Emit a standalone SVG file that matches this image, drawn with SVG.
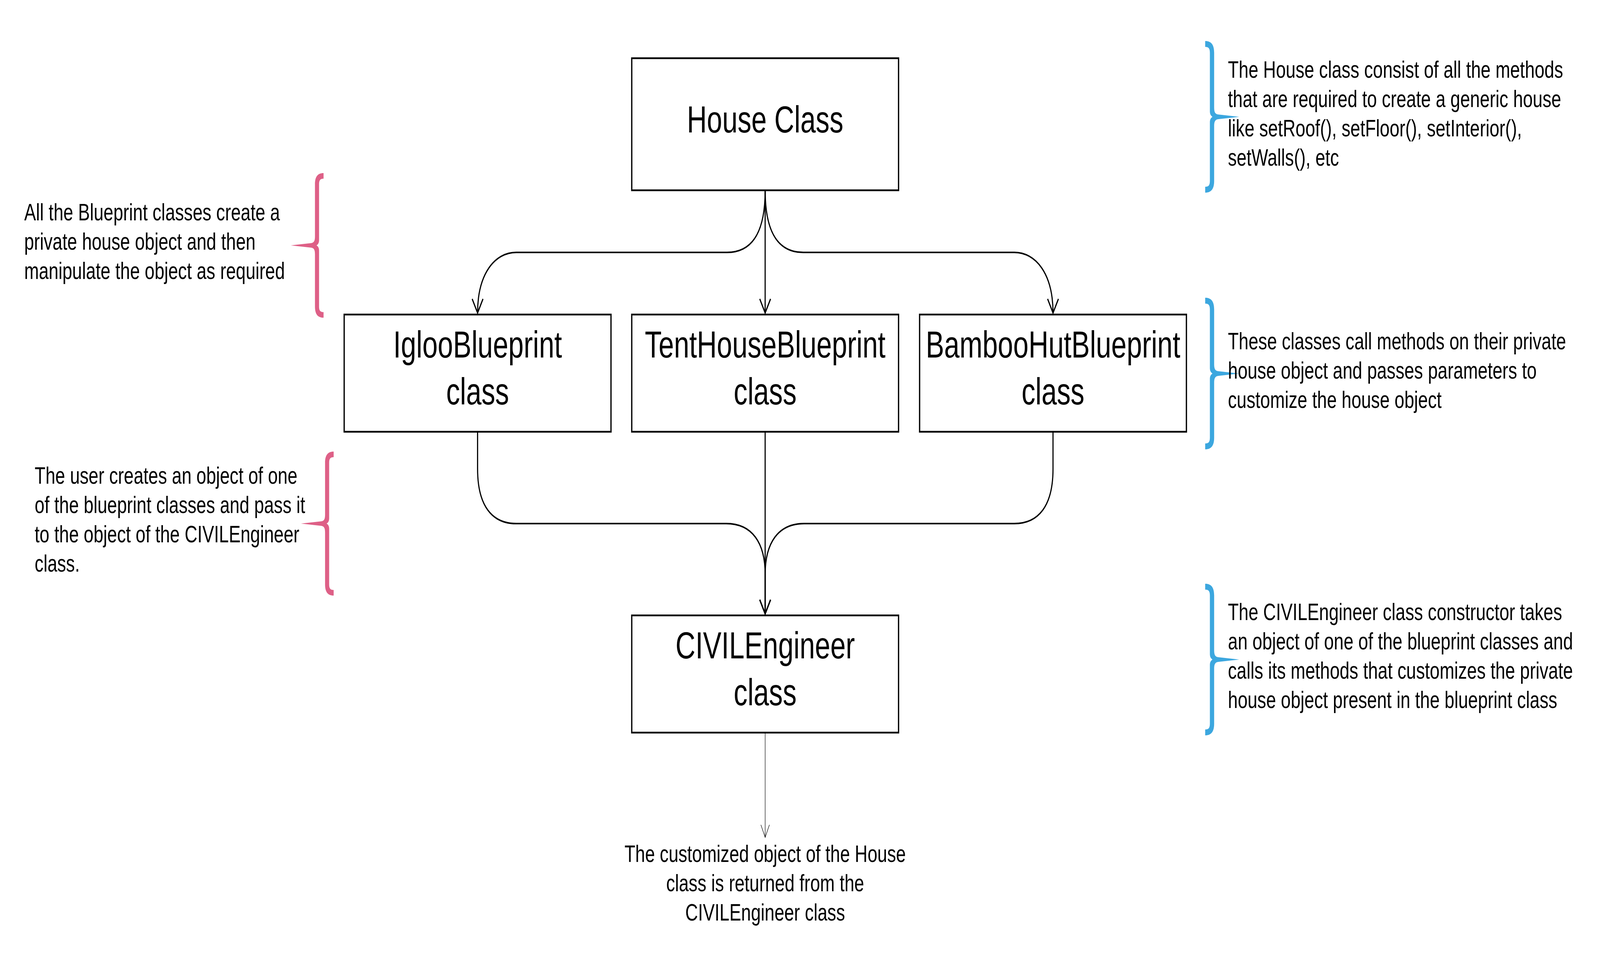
<svg xmlns="http://www.w3.org/2000/svg" xmlns:xlink="http://www.w3.org/1999/xlink" width="5625" height="2480" viewBox="0 0 5625 2480" preserveAspectRatio="none" style="width:100%;height:100%">
<style>
.box{fill:#fff;stroke:#000;stroke-width:4.5}
.lbl{font-family:"Liberation Sans",Arial,sans-serif;font-size:97px;fill:#000;text-anchor:middle}
.note{font-family:"Liberation Sans",Arial,sans-serif;font-size:62px;fill:#000}
.mid{text-anchor:middle}
.conn{fill:none;stroke:#000;stroke-width:4}
.thin{fill:none;stroke:#000;stroke-width:1.6}
.blue{fill:#3CA7DF}
.pink{fill:#DE6087}
</style>
<defs>
<marker id="arr" markerUnits="userSpaceOnUse" markerWidth="60" markerHeight="60" viewBox="-50 -30 60 60" refX="0" refY="0" orient="auto">
<path d="M -36 -19 L 0 0 L -36 19" fill="none" stroke="#000" stroke-width="4"/>
</marker>
<marker id="arrThin" markerUnits="userSpaceOnUse" markerWidth="60" markerHeight="60" viewBox="-50 -30 60 60" refX="0" refY="0" orient="auto">
<path d="M -32 -15 L 0 0 L -32 15" fill="none" stroke="#000" stroke-width="1.6"/>
</marker>
<path id="brace" d="M -24 -194 C -2 -194 7.5 -184 7.5 -164 L 7.5 -24 C 7.5 -12 11 -7 22 -6 L 96 0 L 22 6 C 11 7 7.5 12 7.5 24 L 7.5 164 C 7.5 184 -2 194 -24 194 L -24 179 C -12 179 -7.5 175 -7.5 164 L -7.5 14 C -7.5 6 -3 2 2 0 C -3 -2 -7.5 -6 -7.5 -14 L -7.5 -164 C -7.5 -175 -12 -179 -24 -179 Z"/>
</defs>
<rect width="5625" height="2480" fill="#fff"/>

<g id="connectors">
<path class="conn" d="M 2690 487 C 2690 600 2640 646 2556 646 L 1815 646 C 1740 646 1679 700 1679 801" marker-end="url(#arr)"/>
<path class="conn" d="M 2690 487 L 2690 801" marker-end="url(#arr)"/>
<path class="conn" d="M 2690 487 C 2690 600 2740 646 2824 646 L 3566 646 C 3641 646 3702 700 3702 801" marker-end="url(#arr)"/>
<path class="conn" d="M 1679 1105 L 1679 1200 C 1679 1295 1730 1340 1815 1340 L 2553 1340 C 2645 1340 2690 1390 2690 1470 L 2690 1571" marker-end="url(#arr)"/>
<path class="conn" d="M 2690 1105 L 2690 1571" marker-end="url(#arr)"/>
<path class="conn" d="M 3702 1105 L 3702 1200 C 3702 1295 3651 1340 3566 1340 L 2827 1340 C 2735 1340 2690 1390 2690 1470 L 2690 1571" marker-end="url(#arr)"/>
<path class="thin" d="M 2690 1877 L 2690 2143" marker-end="url(#arrThin)"/>
</g>

<g id="house">
<rect class="box" x="2221" y="149" width="938" height="338"/>
<text class="lbl" x="2690" y="339">House Class</text>
</g>
<g id="igloo">
<rect class="box" x="1210" y="805" width="938" height="300"/>
<text class="lbl" x="1679" y="915">IglooBlueprint</text>
<text class="lbl" x="1679" y="1035">class</text>
</g>
<g id="tenthouse">
<rect class="box" x="2221" y="805" width="938" height="300"/>
<text class="lbl" x="2690" y="915">TentHouseBlueprint</text>
<text class="lbl" x="2690" y="1035">class</text>
</g>
<g id="bamboohut">
<rect class="box" x="3233" y="805" width="938" height="300"/>
<text class="lbl" x="3702" y="915">BambooHutBlueprint</text>
<text class="lbl" x="3702" y="1035">class</text>
</g>
<g id="civilengineer">
<rect class="box" x="2221" y="1575" width="938" height="300"/>
<text class="lbl" x="2690" y="1685">CIVILEngineer</text>
<text class="lbl" x="2690" y="1805">class</text>
</g>
<g id="result-note">
<text class="note mid" x="2690" y="2206">The customized object of the House</text>
<text class="note mid" x="2690" y="2281">class is returned from the</text>
<text class="note mid" x="2690" y="2356">CIVILEngineer class</text>
</g>

<g id="note-blueprints-left">
<use xlink:href="#brace" class="pink" transform="translate(1114.5 628) scale(-0.96 0.954)"/>
<text class="note" x="85" y="564">All the Blueprint classes create a</text>
<text class="note" x="85" y="639">private house object and then</text>
<text class="note" x="85" y="714">manipulate the object as required</text>
</g>
<g id="note-user">
<use xlink:href="#brace" class="pink" transform="translate(1150 1340) scale(-0.96 0.95)"/>
<text class="note" x="122" y="1238">The user creates an object of one</text>
<text class="note" x="122" y="1313">of the blueprint classes and pass it</text>
<text class="note" x="122" y="1388">to the object of the CIVILEngineer</text>
<text class="note" x="122" y="1463">class.</text>
</g>
<g id="note-house">
<use xlink:href="#brace" class="blue" transform="translate(4261 299)"/>
<text class="note" x="4317" y="199">The House class consist of all the methods</text>
<text class="note" x="4317" y="274">that are required to create a generic house</text>
<text class="note" x="4317" y="349">like setRoof(), setFloor(), setInterior(),</text>
<text class="note" x="4317" y="424">setWalls(), etc</text>
</g>
<g id="note-blueprints-right">
<use xlink:href="#brace" class="blue" transform="translate(4261 956)"/>
<text class="note" x="4317" y="894">These classes call methods on their private</text>
<text class="note" x="4317" y="969">house object and passes parameters to</text>
<text class="note" x="4317" y="1044">customize the house object</text>
</g>
<g id="note-civil">
<use xlink:href="#brace" class="blue" transform="translate(4261 1688)"/>
<text class="note" x="4317" y="1587">The CIVILEngineer class constructor takes</text>
<text class="note" x="4317" y="1662">an object of one of the blueprint classes and</text>
<text class="note" x="4317" y="1737">calls its methods that customizes the private</text>
<text class="note" x="4317" y="1812">house object present in the blueprint class</text>
</g>
</svg>
